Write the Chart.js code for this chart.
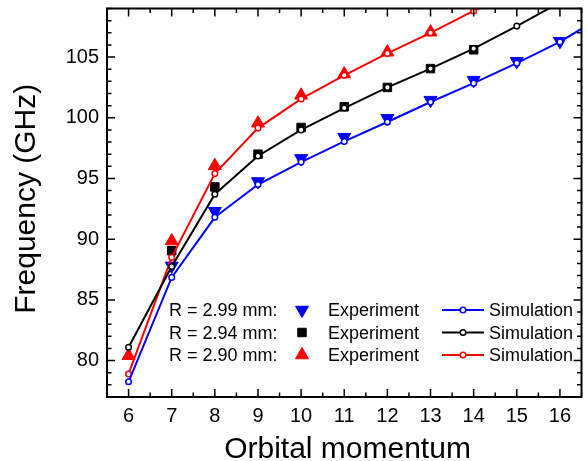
<!DOCTYPE html>
<html>
<head>
<meta charset="utf-8">
<script src="https://cdn.jsdelivr.net/npm/chart.js@4.4.1/dist/chart.umd.min.js"></script>
<style>
    html, body { margin: 0; padding: 0; background: #fff; overflow: hidden; }
    #wrap { width: 590px; height: 461px; }
</style>
</head>
<body>
<div id="wrap"><canvas id="freqChart" width="590" height="461"></canvas></div>
<script>
// ---------- data ----------

const orbital = [6, 7, 8, 9, 10, 11, 12, 13, 14, 15, 16, 17];

// experiment (GHz), null = not measured
const exp299 = [null, 87.8, 92.3, 94.75, 96.65, 98.4, 99.95, 101.45, 103.1, 104.65, 106.3, null];
const exp294 = [null, 89.05, 94.3, 97.0, 99.2, 100.9, 102.5, 104.05, 105.6, null, null, null];
const exp290 = [80.4, 89.85, 96.05, 99.55, 101.85, 103.6, 105.4, 107.05, null, null, null, null];

// simulation (GHz)
const sim299 = [78.25, 86.85, 91.8, 94.5, 96.35, 98.05, 99.65, 101.3, 102.85, 104.5, 106.25, 108.4];
const sim294 = [81.1, 87.75, 93.7, 96.85, 99.0, 100.8, 102.5, 104.05, 105.7, 107.55, 109.5, null];
const sim290 = [78.9, 88.5, 95.4, 99.15, 101.55, 103.5, 105.3, 107.0, 108.8, 110.5, null, null];

const radiusLabels = ["R = 2.99 mm:", "R = 2.94 mm:", "R = 2.90 mm:"];
const seriesColors = ["#0000ff", "#000000", "#ff0000"];

const xTicks = [6, 7, 8, 9, 10, 11, 12, 13, 14, 15, 16];
const yTicks = [80, 85, 90, 95, 100, 105];

const FONT = 'Arial, "Liberation Sans", sans-serif';

function toPoints(vals) {
    return orbital
        .map((x, i) => ({ x, y: vals[i] }))
        .filter((p) => p.y !== null);
}

// ---------- frame, inward ticks, labels, titles and in-plot legend ----------

const framePlugin = {
    id: "framePlugin",
    afterDraw(chart) {
        const ctx = chart.ctx;
        const a = chart.chartArea;
        const xs = chart.scales.x;
        const ys = chart.scales.y;

        ctx.save();
        ctx.strokeStyle = "#000";
        ctx.lineWidth = 2;
        ctx.strokeRect(a.left, a.top, a.right - a.left, a.bottom - a.top);

        // ticks on all four sides, pointing inwards
        ctx.lineWidth = 1.5;
        ctx.beginPath();
        for (let v = xs.min; v <= xs.max + 1e-6; v += 0.5) {
            const px = xs.getPixelForValue(v);
            const len = Number.isInteger(v) ? 8 : 4.5;
            ctx.moveTo(px, a.bottom); ctx.lineTo(px, a.bottom - len);
            ctx.moveTo(px, a.top); ctx.lineTo(px, a.top + len);
        }
        for (let v = ys.min; v <= ys.max; v += 1) {
            const py = ys.getPixelForValue(v);
            const len = v % 5 === 0 ? 8 : 4.5;
            ctx.moveTo(a.left, py); ctx.lineTo(a.left + len, py);
            ctx.moveTo(a.right, py); ctx.lineTo(a.right - len, py);
        }
        ctx.stroke();

        // tick labels
        ctx.fillStyle = "#000";
        ctx.font = "20px " + FONT;
        ctx.textAlign = "center";
        ctx.textBaseline = "alphabetic";
        xTicks.forEach((v) => ctx.fillText(String(v), xs.getPixelForValue(v), a.bottom + 25));
        ctx.textAlign = "right";
        ctx.textBaseline = "middle";
        yTicks.forEach((v) => ctx.fillText(String(v), a.left - 8, ys.getPixelForValue(v)));

        // axis titles
        ctx.font = "30px " + FONT;
        ctx.textAlign = "center";
        ctx.textBaseline = "alphabetic";
        ctx.fillText("Orbital momentum", (a.left + 588) / 2, 458);
        ctx.save();
        ctx.translate(35, (a.top + a.bottom) / 2 - 4);
        ctx.rotate(-Math.PI / 2);
        ctx.fillText("Frequency (GHz)", 0, 0);
        ctx.restore();

        // legend: three rows
        const markers = [
            { pointStyle: "triangle", rotation: 180, radius: 7.5 },
            { pointStyle: "rect", rotation: 0, radius: 6 },
            { pointStyle: "triangle", rotation: 0, radius: 7.5 },
        ];
        ctx.font = "18px " + FONT;
        ctx.textAlign = "left";
        for (let i = 0; i < 3; i++) {
            const cy = 310 + i * 22.5;
            const base = cy + 6;
            const col = seriesColors[i];
            ctx.fillStyle = "#000";
            ctx.fillText(radiusLabels[i], 169, base);
            ctx.fillText("Experiment", 328, base);
            ctx.fillText("Simulation", 489, base);

            ctx.fillStyle = col;
            ctx.strokeStyle = col;
            ctx.lineWidth = 1;
            Chart.helpers.drawPoint(ctx, { ...markers[i], borderWidth: 1 }, 302, cy);

            ctx.lineWidth = 2;
            ctx.beginPath();
            ctx.moveTo(442, cy); ctx.lineTo(484, cy);
            ctx.stroke();
            ctx.fillStyle = "#fff";
            ctx.lineWidth = 1.5;
            Chart.helpers.drawPoint(ctx, { pointStyle: "circle", radius: 2.8, rotation: 0, borderWidth: 1.5 }, 463, cy);
        }
        ctx.restore();
    },
};

function expSet(vals, col, style, rot, rad) {
    return {
        data: toPoints(vals),
        showLine: false,
        pointStyle: style,
        rotation: rot,
        pointRadius: rad,
        pointBackgroundColor: col,
        pointBorderColor: col,
        pointBorderWidth: 1,
        order: 1,
    };
}

function simSet(vals, col) {
    return {
        data: toPoints(vals),
        showLine: true,
        borderColor: col,
        borderWidth: 2,
        tension: 0,
        pointStyle: "circle",
        pointRadius: 2.8,
        pointBackgroundColor: "#fff",
        pointBorderColor: col,
        pointBorderWidth: 1.5,
        order: 0,
    };
}

Chart.defaults.font.family = FONT;
Chart.defaults.color = "#000";

new Chart(document.getElementById("freqChart"), {
    type: "line",
    data: {
        datasets: [
            simSet(sim299, seriesColors[0]),
            simSet(sim294, seriesColors[1]),
            simSet(sim290, seriesColors[2]),
            expSet(exp299, seriesColors[0], "triangle", 180, 7.5),
            expSet(exp294, seriesColors[1], "rect", 0, 6),
            expSet(exp290, seriesColors[2], "triangle", 0, 7.5),
        ],
    },
    options: {
        responsive: false,
        animation: false,
        layout: { padding: { top: 8, left: 0, right: 0, bottom: 0 } },
        plugins: { legend: { display: false }, tooltip: { enabled: false } },
        scales: {
            x: {
                type: "linear",
                min: 5.5,
                max: 16.5,
                grid: { display: false },
                border: { display: false },
                ticks: { display: false },
                afterFit: (s) => { s.height = 64; s.paddingLeft = 0; s.paddingRight = 0; },
            },
            y: {
                type: "linear",
                min: 77,
                max: 109,
                grid: { display: false },
                border: { display: false },
                ticks: { display: false },
                afterFit: (s) => { s.width = 107; s.paddingTop = 0; s.paddingBottom = 0; },
            },
        },
    },
    plugins: [framePlugin],
});
</script>
</body>
</html>
